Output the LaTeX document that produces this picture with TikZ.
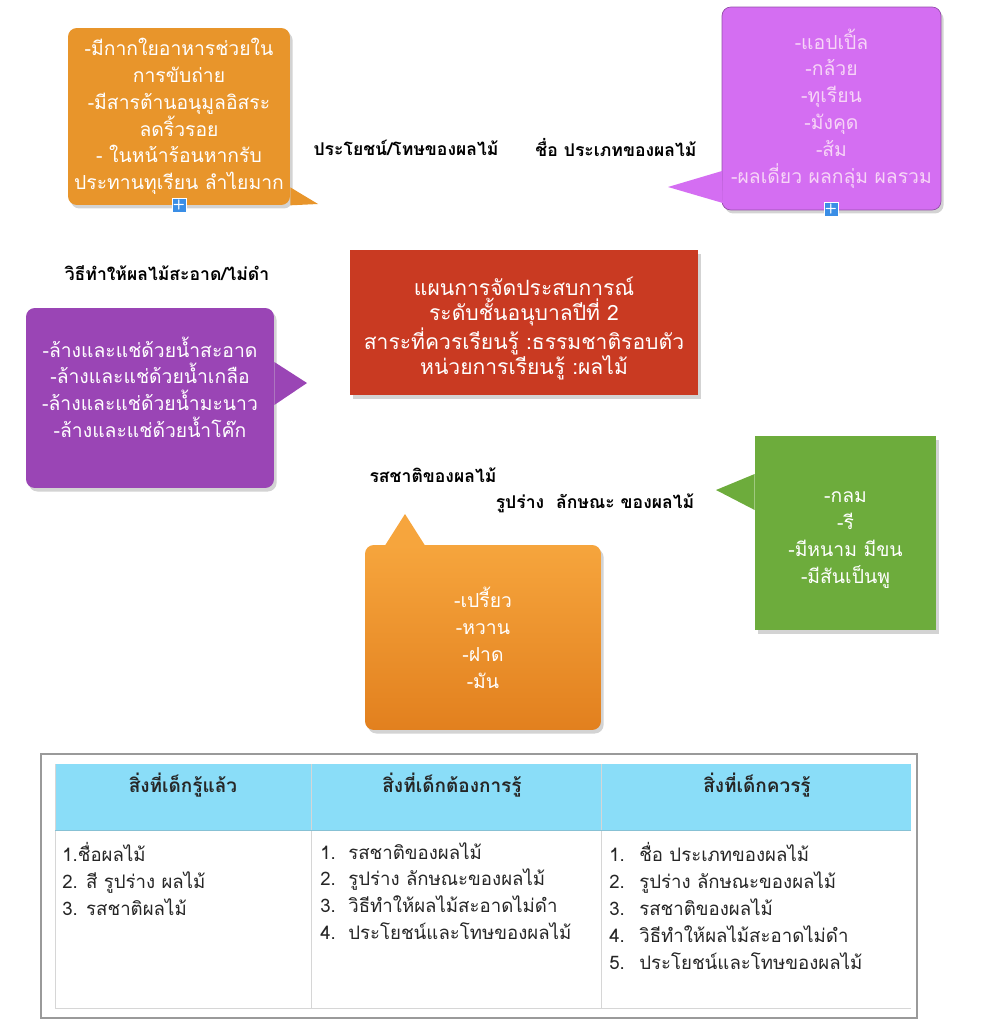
\documentclass[tikz,border=0pt]{standalone}
\usepackage{fontspec}
\setmainfont[Script=Thai]{Loma}
\usetikzlibrary{positioning,shadows,calc}
\definecolor{orangeA}{HTML}{E8952B}
\definecolor{orangeTop}{HTML}{F6A53D}
\definecolor{orangeBot}{HTML}{E2801E}
\definecolor{lilac}{HTML}{D46EF2}
\definecolor{lilactext}{HTML}{F7D5F7}
\definecolor{grape}{HTML}{9A45B5}
\definecolor{brick}{HTML}{C93A22}
\definecolor{grass}{HTML}{6DAC3C}
\definecolor{plusblue}{HTML}{3A8EE6}
\definecolor{headblue}{HTML}{8ADDF8}
\definecolor{tablegray}{HTML}{9A9A9A}
\definecolor{gridgray}{HTML}{D6D6D6}
\tikzset{
    bubble/.style={rounded corners=5pt,text=white,align=center,inner sep=0pt,
        font=\fontsize{11}{15.3}\selectfont,
        drop shadow={shadow xshift=1.5pt,shadow yshift=-2pt,opacity=.35}},
    plainbox/.style={bubble,rounded corners=0pt},
    topic/.style={font=\fontsize{10}{13}\selectfont\bfseries},
    plusbox/.style={fill=plusblue,draw=white,text=white,minimum size=0.28cm,inner sep=0pt,
        font=\sffamily\bfseries\footnotesize},
    headtext/.style={font=\fontsize{10.8}{14}\selectfont\bfseries,text=black!85},
    listtext/.style={anchor=north west,align=left,inner sep=0pt,text=black!85,
        font=\fontsize{10.6}{15.3}\selectfont}
}
\begin{document}
\begin{tikzpicture}[x=0.02cm,y=-0.02cm]
    \useasboundingbox (0,0) rectangle (986,1024);
    % top left
    \node[bubble,fill=orangeA,minimum width=4.44cm,minimum height=3.54cm] (benefit) at (179,116.5)
        {-มีกากใยอาหารช่วยใน\\การขับถ่าย\\-มีสารต้านอนุมูลอิสระ\\ลดริ้วรอย\\- ในหน้าร้อนหากรับ\\ประทานทุเรียน ลำไยมาก};
    \coordinate (benefittip) at (318,204);
    \fill[orangeA] ($(benefit.south east)+(0,-18)$) -- (benefittip) -- (benefit.south east) -- cycle;
    \node[plusbox] (benefitplus) at (179,205) {+};
    % top right
    \node[bubble,fill=lilac,text=lilactext,draw=lilac!70!black,minimum width=4.38cm,minimum height=4.06cm] (names) at (831.5,108.5)
        {-แอปเปิ้ล\\-กล้วย\\-ทุเรียน\\-มังคุด\\-ส้ม\\-ผลเดี่ยว ผลกลุ่ม ผลรวม};
    \coordinate (namestip) at (668,187);
    \fill[lilac] (722,171) -- (namestip) -- (722.8,203) -- cycle;
    \node[plusbox] (namesplus) at (831,209) {+};
    % labels
    \node[topic] (benefitlabel) at (406,148) {ประโยชน์/โทษของผลไม้};
    \node[topic] (nameslabel) at (616,148) {ชื่อ ประเภทของผลไม้};
    \node[topic] (cleanlabel) at (167,273) {วิธีทำให้ผลไม้สะอาด/ไม่ดำ};
    \node[topic] (tastelabel) at (433,475) {รสชาติของผลไม้};
    \node[topic] (shapelabel) at (595,503) {รูปร่าง~~ลักษณะ ของผลไม้};
    % centre
    \node[plainbox,fill=brick,minimum width=6.96cm,minimum height=2.9cm,
          font=\fontsize{12}{14.2}\selectfont] (plan) at (524,322.5)
        {\rule{0pt}{17pt}แผนการจัดประสบการณ์\\ระดับชั้นอนุบาลปีที่ 2\\สาระที่ควรเรียนรู้ :ธรรมชาติรอบตัว\\หน่วยการเรียนรู้ :ผลไม้};
    % middle left
    \node[bubble,fill=grape,minimum width=4.96cm,minimum height=3.6cm] (clean) at (150,398)
        {-ล้างและแช่ด้วยน้ำสะอาด\\-ล้างและแช่ด้วยน้ำเกลือ\\-ล้างและแช่ด้วยน้ำมะนาว\\-ล้างและแช่ด้วยน้ำโค๊ก\\[-2.9pt]};
    \coordinate (cleantip) at (307,383);
    \fill[grape] (clean.east |- 0,362) -- (cleantip) -- (clean.east |- 0,405) -- cycle;
    % right
    \node[plainbox,fill=grass,minimum width=3.62cm,minimum height=3.88cm] (shape) at (845.5,533)
        {\rule{0pt}{14pt}-กลม\\-รี\\-มีหนาม มีขน\\-มีสันเป็นพู};
    \coordinate (shapetip) at (716,490);
    \fill[grass] (shape.west |- 0,474) -- (shapetip) -- (shape.west |- 0,510) -- cycle;
    % bottom
    \node[bubble,top color=orangeTop,bottom color=orangeBot,minimum width=4.72cm,minimum height=3.7cm] (taste) at (483,637.5)
        {-เปรี้ยว\\-หวาน\\-ฝาด\\-มัน};
    \coordinate (tastetip) at (405,514);
    \fill[orangeTop] (385,545.5) -- (tastetip) -- (425,545.5) -- cycle;
    % table
    \draw[tablegray,line width=1pt] (41,754) rectangle (917,1018);
    \fill[headblue] (55,764) rectangle (911,830);
    \draw[gridgray] (55,764) -- (55,1008) -- (911,1008);
    \draw[gridgray] (311,764) -- (311,1008);
    \draw[gridgray] (601,764) -- (601,1008);
    \draw[headblue!70!gray] (55,830) -- (911,830);
    \node[headtext] (knownhead) at (183,785) {สิ่งที่เด็กรู้แล้ว};
    \node[headtext] (wanthead) at (452,785) {สิ่งที่เด็กต้องการรู้};
    \node[headtext] (shouldhead) at (757,785) {สิ่งที่เด็กควรรู้};
    \node[listtext] (knownlist) at (62,842)
        {1.ชื่อผลไม้\\2. สี รูปร่าง ผลไม้\\3. รสชาติผลไม้};
    \node[listtext] (wantlist) at (320,842)
        {\makebox[0.56cm][l]{1.}รสชาติของผลไม้\\\makebox[0.56cm][l]{2.}รูปร่าง ลักษณะของผลไม้\\
         \makebox[0.56cm][l]{3.}วิธีทำให้ผลไม้สะอาดไม่ดำ\\\makebox[0.56cm][l]{4.}ประโยชน์และโทษของผลไม้};
    \node[listtext] (shouldlist) at (609,842)
        {\makebox[0.6cm][l]{1.}ชื่อ ประเภทของผลไม้\\\makebox[0.6cm][l]{2.}รูปร่าง ลักษณะของผลไม้\\
         \makebox[0.6cm][l]{3.}รสชาติของผลไม้\\\makebox[0.6cm][l]{4.}วิธีทำให้ผลไม้สะอาดไม่ดำ\\
         \makebox[0.6cm][l]{5.}ประโยชน์และโทษของผลไม้};
\end{tikzpicture}
\end{document}
